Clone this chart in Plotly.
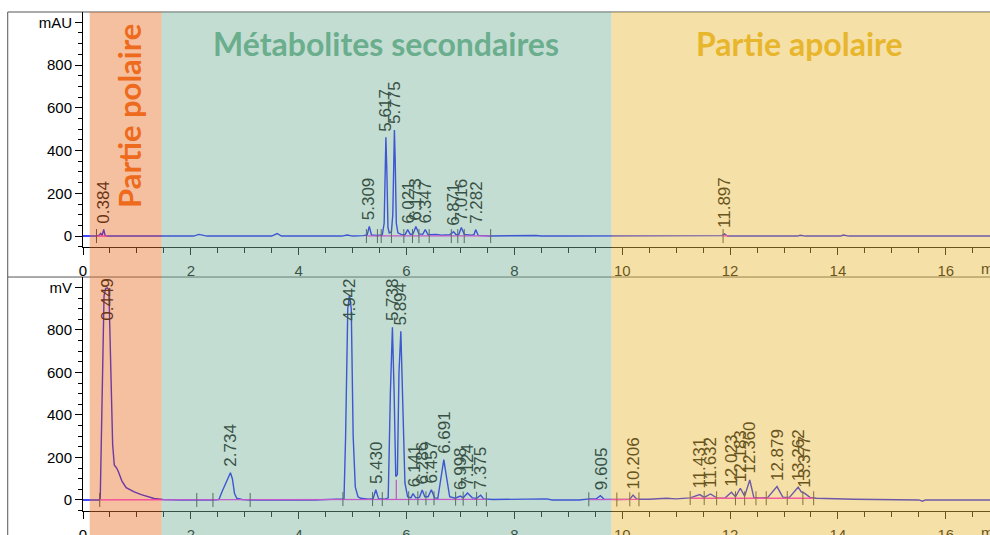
import plotly.graph_objects as go
from plotly.subplots import make_subplots

# ---------------- data ----------------
# Upper chromatogram (UV, mAU)
uv_time = [0.00, 0.25, 0.30, 0.33, 0.355, 0.384, 0.41, 0.45, 1.50, 2.05, 2.15, 2.30, 3.50, 3.60, 3.68,
           4.80, 4.90, 5.00, 5.20, 5.27, 5.309, 5.35, 5.45, 5.55, 5.585, 5.60, 5.617, 5.635, 5.655, 5.68,
           5.72, 5.745, 5.76, 5.775, 5.79, 5.81, 5.84, 5.90, 5.97, 6.021, 6.07, 6.12, 6.173, 6.23, 6.30,
           6.347, 6.40, 6.55, 6.65, 6.80, 6.871, 6.92, 6.97, 7.016, 7.07, 7.20, 7.25, 7.282, 7.33, 7.55,
           8.40, 8.50, 9.00, 11.00, 11.85, 11.897, 11.95, 13.25, 13.30, 13.40, 14.05, 14.10, 14.20, 16.82]
uv_mau = [0, 0, 4, 12, 2, 31, 2, 0, 0, 0, 8, 0, 0, 12, 0,
          0, 5, 0, 2, 5, 45, 5, 3, 5, 60, 300, 462, 300, 40, 15,
          20, 100, 380, 496, 350, 60, 15, 8, 5, 30, 8, 10, 45, 10, 8,
          30, 6, 8, 4, 6, 20, 6, 8, 40, 8, 4, 6, 30, 3, 0,
          3, 0, 0, 0, 2, 10, 0, 0, 4, 0, 0, 5, 0, 0]

# Lower chromatogram (mV)
elsd_time = [0.00, 0.30, 0.32, 0.36, 0.39, 0.42, 0.449, 0.48, 0.51, 0.55, 0.58, 0.63, 0.66, 0.72, 0.80,
             0.95, 1.08, 1.20, 1.32, 1.48, 1.80, 2.40, 2.52, 2.58, 2.64, 2.70, 2.734, 2.77, 2.81, 2.85,
             2.95, 3.10, 4.30, 4.70, 4.84, 4.87, 4.91, 4.942, 4.975, 5.01, 5.05, 5.10, 5.15, 5.30, 5.38,
             5.43, 5.48, 5.60, 5.66, 5.70, 5.738, 5.77, 5.80, 5.83, 5.86, 5.894, 5.93, 5.97, 6.02, 6.08,
             6.12, 6.17, 6.24, 6.29, 6.34, 6.40, 6.46, 6.52, 6.58, 6.64, 6.691, 6.74, 6.80, 6.90, 6.998,
             7.05, 7.13, 7.22, 7.30, 7.375, 7.43, 7.60, 8.50, 8.60, 8.70, 9.20, 9.40, 9.52, 9.595, 9.66,
             9.90, 10.14, 10.20, 10.27, 10.50, 10.82, 11.00, 11.26, 11.437, 11.52, 11.636, 11.75, 11.90,
             12.025, 12.10, 12.19, 12.27, 12.365, 12.44, 12.55, 12.70, 12.87, 12.98, 13.10, 13.262, 13.32,
             13.385, 13.48, 13.60, 14.00, 14.30, 15.50, 15.57, 15.62, 16.82]
elsd_mv = [0, 0, 10, 600, 960, 995, 998, 990, 700, 260, 165, 148, 130, 90, 58,
           38, 25, 15, 7, 2, 0, 0, 2, 40, 72, 110, 128, 100, 30, 8,
           2, 0, 0, 4, 4, 300, 900, 965, 900, 300, 60, 15, 8, 4, 6,
           48, 6, 4, 10, 500, 813, 500, 110, 120, 600, 794, 500, 80, 15, 10,
           30, 10, 12, 47, 15, 15, 48, 10, 8, 120, 190, 110, 15, 8, 18,
           10, 33, 10, 8, 22, 5, 2, 2, 5, 0, 0, 5, 5, 20, 4,
           2, 3, 23, 3, 3, 8, 5, 10, 25, 12, 28, 10, 8,
           36, 15, 55, 18, 94, 12, 10, 12, 63, 12, 12, 60, 38,
           31, 12, 8, 5, 3, 0, -6, 0, 0]

# Peak labels (retention time, apex height)
uv_peak_rt = [0.384, 5.309, 5.617, 5.775, 6.021, 6.173, 6.347, 6.871, 7.016, 7.282, 11.897]
uv_peak_height = [31, 45, 462, 496, 30, 45, 30, 20, 40, 30, 10]
elsd_peak_rt = [0.449, 2.734, 4.942, 5.430, 5.738, 5.894, 6.141, 6.286, 6.457, 6.691, 6.998, 7.124,
                7.375, 9.605, 10.206, 11.431, 11.632, 12.023, 12.183, 12.360, 12.879, 13.262, 13.377]
elsd_peak_height = [998, 128, 965, 48, 813, 794, 30, 47, 48, 190, 18, 33,
                    22, 20, 23, 25, 28, 36, 55, 94, 63, 60, 31]

# Peak delimiters and integration baselines
uv_delims = [0.25, 5.256, 5.46, 5.53, 5.72, 5.95, 6.11, 6.23, 6.42, 6.83, 6.95, 7.07, 7.56, 11.87]
elsd_delims = [0.31, 2.11, 2.41, 3.10, 4.82, 5.37, 5.55, 6.04, 6.21, 6.36, 6.51, 6.91, 7.05, 7.30, 7.48,
               9.38, 9.90, 10.14, 10.31, 11.26, 11.52, 11.75, 12.10, 12.27, 12.48, 12.67, 13.06, 13.35, 13.55]
elsd_delim_level = [0, 0, 0, 0, 4, 4, 4, 8, 8, 8, 8, 6, 6, 5, 3,
                    3, 2, 3, 3, 9, 9, 8, 8, 8, 8, 8, 9, 9, 8]
uv_base_t = [0.25, 0.45, None, 5.25, 7.56, None, 11.85, 11.97]
uv_base_v = [0, 0, None, 1, 1, None, 1, 1]
elsd_base_t = [0.31, 7.48, None, 5.81, 5.81, None, 9.38, 10.31, None, 11.26, 13.55]
elsd_base_v = [0, 3, None, 2, 95, None, 2, 3, None, 8, 8]

# Axes
x_ticks = [0, 2, 4, 6, 8, 10, 12, 14, 16]
y_ticks = [0, 200, 400, 600, 800, 1000]
uv_ytext = ["0", "200", "400", "600", "800", "mAU"]
elsd_ytext = ["0", "200", "400", "600", "800", "mV"]

# Zones (minutes)
zone_names = ["Partie polaire", "Métabolites secondaires", "Partie apolaire"]
zone_start = [0.124, 1.459, 9.80]
zone_end = [1.459, 9.80, 16.82]

# ---------------- styling ----------------
W, H = 990, 535
ML, MR, MT, MB = 83, 0, 12, 24
X_RANGE = [0, 16.82]
UV_RANGE = [-51, 1048]
ELSD_RANGE = [-52, 1049]
TOP_DOM = [0.5291, 1.0]
BOT_DOM = [0.0, 0.4689]

ALPHA = 0.45
zone_rgb = [(233, 115, 44), (124, 179, 155), (233, 186, 62)]
zone_text = ["#ee6a1c", "#6aae8e", "#e8b62c"]
LINE_BLUE = "#0a0aff"
PINK = "#ff10f0"
LABEL_SIZE = 17
GAP = 5
FONT = "Liberation Sans, Arial, sans-serif"
TITLE_FONT = "Lato, Open Sans, sans-serif"
TITLE_SIZE = 32

fig = make_subplots(rows=2, cols=1, shared_xaxes=False, vertical_spacing=0.05)

for t, v, row in [(uv_time, uv_mau, 1), (elsd_time, elsd_mv, 2)]:
    fig.add_trace(go.Scatter(x=t, y=v, mode="lines", line=dict(color=LINE_BLUE, width=1.4),
                             hoverinfo="skip"), row=row, col=1)

fig.add_trace(go.Scatter(x=uv_base_t, y=uv_base_v, mode="lines", line=dict(color=PINK, width=1.3),
                         hoverinfo="skip"), row=1, col=1)
fig.add_trace(go.Scatter(x=elsd_base_t, y=elsd_base_v, mode="lines", line=dict(color=PINK, width=1.3),
                         hoverinfo="skip"), row=2, col=1)
fig.add_trace(go.Scatter(x=uv_delims, y=[0] * len(uv_delims), mode="markers",
                         marker=dict(symbol="line-ns", size=10, line=dict(color="#333", width=1)),
                         hoverinfo="skip"), row=1, col=1)
fig.add_trace(go.Scatter(x=elsd_delims, y=elsd_delim_level, mode="markers",
                         marker=dict(symbol="line-ns", size=10, line=dict(color="#333", width=1)),
                         hoverinfo="skip"), row=2, col=1)


def zone_of(t):
    for i in range(len(zone_start)):
        if zone_start[i] <= t < zone_end[i]:
            return i
    return None


def tinted(rgb_base, i):
    if i is None:
        return "rgb(%d,%d,%d)" % rgb_base
    c = zone_rgb[i]
    return "rgb(%d,%d,%d)" % tuple(round(ALPHA * c[k] + (1 - ALPHA) * rgb_base[k]) for k in range(3))


def label_len(text):
    return sum(0.556 if ch.isdigit() else 0.278 for ch in text) * LABEL_SIZE


plot_h = H - MT - MB
annotations = []
for rts, hs, yr, dom, xr, yref in [(uv_peak_rt, uv_peak_height, UV_RANGE, TOP_DOM, "x", "y"),
                                   (elsd_peak_rt, elsd_peak_height, ELSD_RANGE, BOT_DOM, "x2", "y2")]:
    ppu = plot_h * (dom[1] - dom[0]) / (yr[1] - yr[0])
    for rt, h in zip(rts, hs):
        txt = "%.3f" % rt
        top_px = (yr[1] - h) * ppu
        if top_px - GAP - label_len(txt) < 0:
            y, ya, ys = yr[1], "top", 0
        else:
            y, ya, ys = h, "bottom", GAP
        annotations.append(dict(x=rt, y=y, xref=xr, yref=yref, text=txt, textangle=-90,
                                showarrow=False, xanchor="center", yanchor=ya, yshift=ys,
                                borderpad=0,
                                font=dict(family=FONT, size=LABEL_SIZE, color=tinted((0, 0, 0), zone_of(rt)))))

# "min" axis units
for yref in ["y domain", "y2 domain"]:
    annotations.append(dict(x=16.62, y=0, xref="x", yref=yref, text="min", showarrow=False,
                            xanchor="left", yanchor="top", yshift=-11,
                            font=dict(family=FONT, size=15, color=tinted((0, 0, 0), 2))))

# zone titles
annotations.append(dict(x=0.866, y=560, xref="x", yref="y", text="<b>" + zone_names[0] + "</b>",
                        textangle=-90, showarrow=False, xanchor="center", yanchor="middle",
                        font=dict(family=TITLE_FONT, size=31, color=zone_text[0])))
annotations.append(dict(x=5.616, y=903, xref="x", yref="y", text="<b>" + zone_names[1] + "</b>",
                        showarrow=False, xanchor="center", yanchor="middle",
                        font=dict(family=TITLE_FONT, size=TITLE_SIZE, color=zone_text[1])))
annotations.append(dict(x=13.29, y=903, xref="x", yref="y", text="<b>" + zone_names[2] + "</b>",
                        showarrow=False, xanchor="center", yanchor="middle",
                        font=dict(family=TITLE_FONT, size=TITLE_SIZE, color=zone_text[2])))

shapes = []
FRAME_X = -0.083
frame = dict(color="#555555", width=1)
shapes.append(dict(type="line", xref="paper", yref="paper", x0=FRAME_X, x1=1, y0=1, y1=1, line=frame, layer="below"))
shapes.append(dict(type="line", xref="paper", yref="paper", x0=FRAME_X, x1=1, y0=BOT_DOM[1], y1=BOT_DOM[1], line=frame, layer="below"))
shapes.append(dict(type="line", xref="paper", yref="paper", x0=FRAME_X, x1=FRAME_X, y0=-0.06, y1=1, line=frame, layer="below"))
span = X_RANGE[1] - X_RANGE[0]
for i in range(3):
    c = zone_rgb[i]
    shapes.append(dict(type="rect", xref="paper", yref="paper",
                       x0=(zone_start[i] - X_RANGE[0]) / span, x1=(zone_end[i] - X_RANGE[0]) / span,
                       y0=-0.06, y1=1, line=dict(width=0),
                       fillcolor="rgba(%d,%d,%d,%.2f)" % (c[0], c[1], c[2], ALPHA), layer="above"))

xaxis_style = dict(range=X_RANGE, tickmode="array", tickvals=x_ticks, ticks="outside", ticklen=7,
                   tickcolor="black", showline=True, linecolor="black", linewidth=1, showgrid=False,
                   zeroline=False, automargin=False, tickfont=dict(family=FONT, size=15, color="black"),
                   minor=dict(tickmode="linear", tick0=0, dtick=0.5, ticks="outside", ticklen=5,
                              tickcolor="black"), ticklabelstandoff=3)


def yaxis_style(rng, text):
    return dict(range=rng, tickmode="array", tickvals=y_ticks, ticktext=text, ticks="outside", ticklen=7,
                tickcolor="black", showline=True, linecolor="black", linewidth=1, showgrid=False,
                zeroline=False, automargin=False, tickfont=dict(family=FONT, size=15, color="black"),
                minor=dict(tickmode="linear", tick0=0, dtick=50, ticks="outside", ticklen=4,
                           tickcolor="black"))


fig.update_layout(
    width=W, height=H, margin=dict(l=ML, r=MR, t=MT, b=MB, autoexpand=False),
    paper_bgcolor="white", plot_bgcolor="white", showlegend=False, hovermode=False,
    xaxis=dict(domain=[0, 1], **xaxis_style), xaxis2=dict(domain=[0, 1], **xaxis_style),
    yaxis=dict(domain=TOP_DOM, **yaxis_style(UV_RANGE, uv_ytext)),
    yaxis2=dict(domain=BOT_DOM, **yaxis_style(ELSD_RANGE, elsd_ytext)),
    annotations=annotations, shapes=shapes,
)

fig.write_html("out.html", config={"displayModeBar": False},
               post_script="document.body.style.margin='0px';document.body.style.overflow='hidden';")
